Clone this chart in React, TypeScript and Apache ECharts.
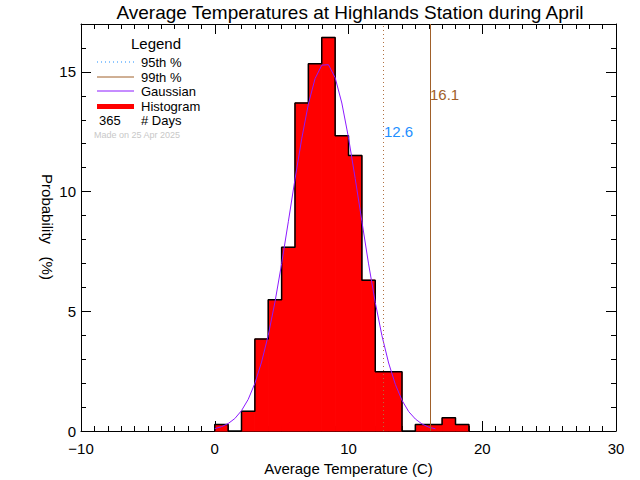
import React, { useEffect, useRef } from "react";
import * as echarts from "echarts";

// ---- data ----
const binStarts = [0, 1, 2, 3, 4, 5, 6, 7, 8, 9, 10, 11, 12, 13, 14, 15, 16, 17, 18];
const binPercents = [0.27, 0, 0.82, 3.84, 5.48, 7.67, 13.7, 15.34, 16.44, 12.33, 11.51, 6.3, 2.47, 2.47, 0, 0.27, 0.27, 0.55, 0.27];
const binWidth = 1;
const gaussX = [0, 0.5, 1, 1.5, 2, 2.5, 3, 3.5, 4, 4.5, 5, 5.5, 6, 6.5, 7, 7.5, 8, 8.5, 9, 9.5, 10, 10.5, 11, 11.5, 12, 12.5, 13, 13.5, 14, 14.5, 15, 15.5, 16, 16.5];
const gaussY = [0.1, 0.18, 0.31, 0.52, 0.85, 1.32, 1.99, 2.88, 4.0, 5.38, 6.99, 8.74, 10.52, 12.2, 13.66, 14.72, 15.28, 15.3, 14.76, 13.7, 12.25, 10.55, 8.76, 6.98, 5.37, 3.98, 2.84, 1.95, 1.28, 0.81, 0.5, 0.29, 0.16, 0.09];
const pct95 = 12.6;
const pct99 = 16.1;
const numDays = 365;
const xRange = [-10, 30];
const yRange = [0, 17];

const C95 = "#1e8fff";
const C95LINE = "#b07040";
const C99 = "#a0602a";
const CGAUSS = "#8c1aff";
const FONT = "Liberation Sans";

export default function App() {
  const ref = useRef<HTMLDivElement>(null);
  useEffect(() => {
    if (!ref.current) return;
    const chart = echarts.init(ref.current, undefined, { renderer: "svg" });

    const histData = binStarts.map((s, i) => [s, s + binWidth, binPercents[i]]);
    const outline: number[][] = [[binStarts[0], 0]];
    binStarts.forEach((s, i) => {
      outline.push([s, binPercents[i]]);
      outline.push([s + binWidth, binPercents[i]]);
    });
    outline.push([binStarts[binStarts.length - 1] + binWidth, 0]);
    const gauss = gaussX.map((x, i) => [x, gaussY[i]]);

    const axisLine = { show: true, onZero: false, lineStyle: { color: "#000", width: 1 } };
    const xBase = {
      type: "value" as const,
      min: xRange[0],
      max: xRange[1],
      interval: 10,
      axisLine,
      splitLine: { show: false },
      minorSplitLine: { show: false },
      axisTick: { show: true, inside: true, length: 10, lineStyle: { color: "#000" } },
      minorTick: { show: true, splitNumber: 10, length: 5, lineStyle: { color: "#000" } },
    };
    const yMajor = (pos: "left" | "right", labels: boolean) => ({
      type: "value" as const,
      min: yRange[0],
      max: yRange[1],
      interval: 5,
      position: pos,
      offset: 0,
      axisLine,
      splitLine: { show: false },
      axisTick: { show: true, inside: true, length: 10, lineStyle: { color: "#000" } },
      axisLabel: {
        show: labels,
        color: "#000",
        fontSize: 15,
        fontFamily: FONT,
        margin: 5,
        formatter: (v: number) => (v % 5 === 0 ? String(v) : ""),
      },
    });
    const yMinor = (pos: "left" | "right") => ({
      type: "value" as const,
      min: yRange[0],
      max: yRange[1],
      interval: 1,
      position: pos,
      offset: 0,
      axisLine: { show: false, onZero: false },
      splitLine: { show: false },
      axisTick: { show: true, inside: true, length: 5, lineStyle: { color: "#000" } },
      axisLabel: { show: false },
    });

    const lx = 97, lx2 = 134, tx = 141;
    const lf = `13px '${FONT}'`;
    const legText = (text: string, x: number, y: number) => ({
      type: "text",
      x,
      y,
      style: { text, fill: "#000", font: lf, lineHeight: 12, verticalAlign: "middle" },
    });
    chart.setOption({
      animation: false,
      backgroundColor: "#fff",
      grid: { left: 81, right: 24, top: 24, bottom: 49, outerBoundsMode: "none" },
      xAxis: [
        {
          ...xBase,
          position: "bottom",
          name: "Average Temperature (C)",
          nameLocation: "middle",
          nameGap: 26,
          nameTextStyle: { fontFamily: FONT, fontSize: 15, color: "#000" },
          axisLabel: {
            color: "#000",
            fontSize: 15,
            fontFamily: FONT,
            margin: 10,
            formatter: (v: number) => (v < 0 ? "\u2212" + Math.abs(v) : String(v)),
          },
        },
        { ...xBase, position: "top", axisLabel: { show: false } },
      ],
      yAxis: [yMajor("left", true), yMinor("left"), yMajor("right", false), yMinor("right")],
      series: [
        {
          type: "custom",
          xAxisIndex: 0,
          yAxisIndex: 0,
          data: histData,
          encode: { x: [0, 1], y: 2 },
          renderItem: (params: any, api: any) => {
            const x0 = api.value(0), x1 = api.value(1), v = api.value(2);
            const p0 = api.coord([x0, v]);
            const p1 = api.coord([x1, 0]);
            return {
              type: "rect",
              shape: { x: p0[0], y: p0[1], width: p1[0] - p0[0], height: p1[1] - p0[1] },
              style: { fill: "#ff0000", stroke: v > 0 ? "#ff0000" : "none", lineWidth: 1 },
            };
          },
          z: 1,
        },
        {
          type: "line",
          data: outline,
          symbol: "none",
          lineStyle: { color: "#000", width: 1.5 },
          z: 2,
        },
        {
          type: "line",
          data: gauss,
          symbol: "none",
          lineStyle: { color: CGAUSS, width: 1 },
          z: 3,
          markLine: {
            silent: true,
            symbol: ["none", "none"],
            label: { show: false },
            data: [
              { xAxis: pct95, lineStyle: { color: C95LINE, type: [1, 3], width: 1 } },
              { xAxis: pct99, lineStyle: { color: C99, type: "solid", width: 1 } },
            ],
          },
        },
      ],
      graphic: [
        {
          type: "text",
          x: 350,
          y: 12,
          style: {
            text: "Average Temperatures at Highlands Station during April",
            fill: "#000",
            font: `19px '${FONT}'`,
            align: "center",
            verticalAlign: "middle",
          },
        },
        { type: "text", x: 384, y: 131, style: { text: pct95.toFixed(1), fill: C95, font: `15px '${FONT}'`, verticalAlign: "middle" } },
        { type: "text", x: 430, y: 94, style: { text: pct99.toFixed(1), fill: C99, font: `15px '${FONT}'`, verticalAlign: "middle" } },
        { type: "text", x: 156, y: 43, style: { text: "Legend", fill: "#000", font: `15px '${FONT}'`, align: "center", verticalAlign: "middle" } },
        { type: "line", shape: { x1: lx, y1: 62, x2: lx2, y2: 62 }, style: { stroke: C95, lineWidth: 1, lineDash: [1, 3] } },
        legText("95th %", tx, 62),
        { type: "line", shape: { x1: lx, y1: 77, x2: lx2, y2: 77 }, style: { stroke: C99, lineWidth: 1 } },
        legText("99th %", tx, 77),
        { type: "line", shape: { x1: lx, y1: 91, x2: lx2, y2: 91 }, style: { stroke: CGAUSS, lineWidth: 1 } },
        legText("Gaussian", tx, 91),
        { type: "line", shape: { x1: lx, y1: 106.5, x2: lx2, y2: 106.5 }, style: { stroke: "#ff0000", lineWidth: 5 } },
        legText("Histogram", tx, 106),
        legText(String(numDays), 99, 120),
        legText("# Days", tx, 120),
        { type: "text", x: 94, y: 135, style: { text: "Made on 25 Apr 2025", fill: "#c8c8c8", font: `9px '${FONT}'`, verticalAlign: "middle" } },
        {
          type: "text",
          x: 47,
          y: 227,
          rotation: -Math.PI / 2,
          style: { text: "Probability   (%)", fill: "#000", font: `15px '${FONT}'`, align: "center", verticalAlign: "middle" },
        },
      ],
    });
    return () => chart.dispose();
  }, []);
  return <div ref={ref} style={{ position: "absolute", left: 0, top: 0, width: 640, height: 480 }} />;
}
